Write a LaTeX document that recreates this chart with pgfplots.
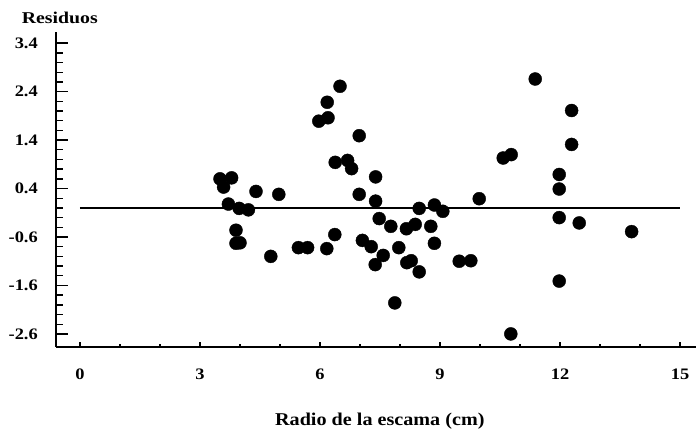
\documentclass[border=0pt]{standalone}
\usepackage{fontspec}
\setmainfont{Liberation Serif}
\usepackage{graphicx}
\usepackage{pgfplots}
\pgfplotsset{compat=1.18}
\newcommand\wide[1]{\scalebox{1.15}[1]{#1}}
\begin{document}
\begin{tikzpicture}
\begin{axis}[
  scale only axis, width=640pt, height=315pt,
  xmin=-0.6, xmax=15.4, ymin=-2.87, ymax=3.63,
  axis x line=bottom, axis y line=left,
  axis line style={-, line width=1.5pt},
  tick align=inside,
  tick style={line width=1.4pt, black},
  xtick={0,3,6,9,12,15},
  xticklabels={\wide{0},\wide{3},\wide{6},\wide{9},\wide{12},\wide{15}},
  minor xtick={1,2,4,5,7,8,10,11,13,14},
  ytick={-2.6,-1.6,-0.6,0.4,1.4,2.4,3.4},
  yticklabels={\wide{-2.6},\wide{-1.6},\wide{-0.6},\wide{0.4},\wide{1.4},\wide{2.4},\wide{3.4}},
  minor ytick={-2.4,-2.2,-2.0,-1.8,-1.4,-1.2,-1.0,-0.8,-0.4,-0.2,0,0.2,0.6,0.8,1.0,1.2,1.6,1.8,2.0,2.2,2.6,2.8,3.0,3.2},
  xtick style={/pgfplots/major tick length=5pt, /pgfplots/minor tick length=3pt},
  ytick style={/pgfplots/major tick length=12pt, /pgfplots/minor tick length=7pt},
  ticklabel style={font=\fontsize{16}{16}\selectfont\bfseries},
  xticklabel style={anchor=north, inner sep=0pt, yshift=-22pt},
  yticklabel style={anchor=east, inner sep=0pt, xshift=-18pt},
  clip=false,
]
\path (rel axis cs:-0.0875,1.1016) rectangle (rel axis cs:1.0031,-0.2667);
\addplot[black, line width=1.3pt] coordinates {(0,0) (15,0)};
\addplot[only marks, mark=*, mark size=6.5pt, black] table {
3.50 0.60
3.79 0.62
3.59 0.43
3.71 0.08
3.98 -0.01
4.21 -0.04
4.40 0.34
3.90 -0.46
3.90 -0.73
4.00 -0.72
4.77 -1.00
4.97 0.28
5.46 -0.82
5.69 -0.82
6.17 -0.84
6.37 -0.55
5.97 1.79
6.20 1.86
6.18 2.18
6.50 2.51
6.38 0.94
6.69 0.98
6.79 0.81
6.98 1.49
6.98 0.28
7.06 -0.67
7.28 -0.80
7.39 0.64
7.39 0.14
7.48 -0.22
7.58 -0.98
7.38 -1.17
7.77 -0.38
7.97 -0.82
7.87 -1.96
8.16 -0.43
8.38 -0.34
8.17 -1.13
8.28 -1.09
8.48 -1.32
8.48 -0.01
8.77 -0.38
8.86 0.06
8.86 -0.73
9.07 -0.07
9.48 -1.10
9.77 -1.09
9.98 0.19
10.58 1.03
10.78 1.10
11.38 2.66
10.77 -2.60
12.29 2.01
12.29 1.31
11.98 0.69
11.98 0.39
11.98 -0.20
12.48 -0.31
11.98 -1.51
13.79 -0.49
};
\node[font=\fontsize{16.5}{16.5}\selectfont\bfseries] at (rel axis cs:0.006,1.046) {\scalebox{1.2}[1]{Residuos}};
\node[font=\fontsize{18}{18}\selectfont\bfseries] at (rel axis cs:0.506,-0.235) {\scalebox{1.12}[1]{Radio de la escama (cm)}};
\end{axis}
\end{tikzpicture}
\end{document}
